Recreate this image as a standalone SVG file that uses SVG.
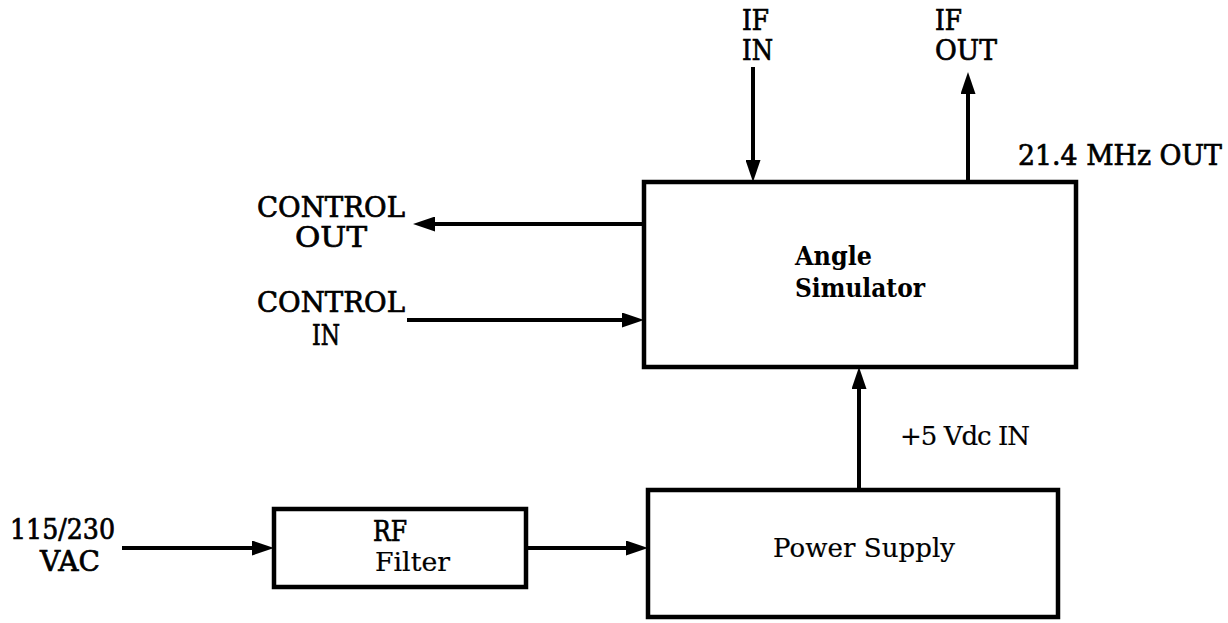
<svg xmlns="http://www.w3.org/2000/svg" width="1228" height="623" viewBox="0 0 1228 623">
  <style>
    .box { fill: #ffffff; stroke: #000000; stroke-width: 4.5; }
    .wire { fill: none; stroke: #000000; stroke-width: 4; }
    .lbl { font-family: "DejaVu Serif", "Liberation Serif", serif; font-size: 27px; fill: #000000; stroke: #000000; stroke-width: 0.7; }
    .lbl2 { font-family: "DejaVu Serif", "Liberation Serif", serif; font-size: 26px; fill: #000000; stroke: #000000; stroke-width: 0.2; }
    .slab { font-family: "DejaVu Serif", "Liberation Serif", serif; font-size: 26px; font-weight: bold; fill: #000000; }
  </style>
  <defs>
    <marker id="arrow" viewBox="0 0 22 15" refX="12" refY="7.5" markerWidth="22" markerHeight="15" markerUnits="userSpaceOnUse" orient="auto">
      <path d="M0,0 L22,7.5 L0,15 Z" fill="#000000"/>
    </marker>
  </defs>
  <rect width="1228" height="623" fill="#ffffff"/>

  <g id="connectors">
    <line class="wire" x1="753" y1="67" x2="753" y2="172" marker-end="url(#arrow)"/>
    <line class="wire" x1="968" y1="182" x2="968" y2="82" marker-end="url(#arrow)"/>
    <line class="wire" x1="644" y1="224" x2="423" y2="224" marker-end="url(#arrow)"/>
    <line class="wire" x1="407" y1="320" x2="634" y2="320" marker-end="url(#arrow)"/>
    <line class="wire" x1="859" y1="490" x2="859" y2="377" marker-end="url(#arrow)"/>
    <line class="wire" x1="122" y1="548" x2="264" y2="548" marker-end="url(#arrow)"/>
    <line class="wire" x1="526" y1="548" x2="638" y2="548" marker-end="url(#arrow)"/>
  </g>

  <g id="angle-simulator">
    <rect class="box" x="644" y="182" width="432" height="185"/>
    <text class="slab" x="795" y="265" textLength="77" lengthAdjust="spacingAndGlyphs">Angle</text>
    <text class="slab" x="795" y="297" textLength="130" lengthAdjust="spacingAndGlyphs">Simulator</text>
  </g>

  <g id="power-supply">
    <rect class="box" x="648" y="490" width="410" height="127"/>
    <text class="lbl2" x="773" y="557" textLength="182">Power Supply</text>
  </g>

  <g id="rf-filter">
    <rect class="box" x="274" y="509" width="252" height="78"/>
    <text class="lbl" x="373" y="541" textLength="34" lengthAdjust="spacingAndGlyphs">RF</text>
    <text class="lbl2" x="375" y="571" textLength="75" lengthAdjust="spacingAndGlyphs">Filter</text>
  </g>

  <g id="labels">
    <text class="lbl" x="742" y="30" textLength="27" lengthAdjust="spacingAndGlyphs">IF</text>
    <text class="lbl" x="742" y="60" textLength="31" lengthAdjust="spacingAndGlyphs">IN</text>
    <text class="lbl" x="935" y="30" textLength="27" lengthAdjust="spacingAndGlyphs">IF</text>
    <text class="lbl" x="935" y="60" textLength="62" lengthAdjust="spacingAndGlyphs">OUT</text>
    <text class="lbl" x="1018" y="165" textLength="204" lengthAdjust="spacingAndGlyphs">21.4 MHz OUT</text>
    <text class="lbl" x="257" y="217" textLength="148" lengthAdjust="spacingAndGlyphs">CONTROL</text>
    <text class="lbl" x="295" y="247" textLength="72" lengthAdjust="spacingAndGlyphs">OUT</text>
    <text class="lbl" x="257" y="312" textLength="148" lengthAdjust="spacingAndGlyphs">CONTROL</text>
    <text class="lbl" x="312" y="345" textLength="28" lengthAdjust="spacingAndGlyphs">IN</text>
    <text class="lbl2" x="900" y="445" textLength="130">+5 Vdc IN</text>
    <text class="lbl" x="10" y="539" textLength="105" lengthAdjust="spacingAndGlyphs">115/230</text>
    <text class="lbl" x="40" y="571" textLength="60" lengthAdjust="spacingAndGlyphs">VAC</text>
  </g>
</svg>
